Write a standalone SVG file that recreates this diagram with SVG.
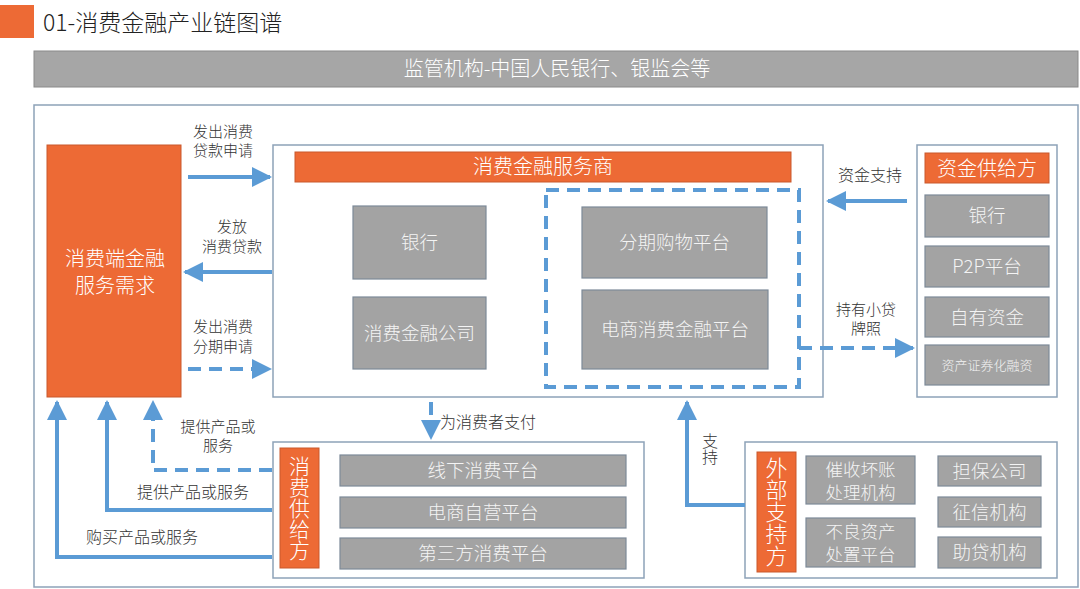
<svg xmlns="http://www.w3.org/2000/svg" width="1080" height="589" viewBox="0 0 1080 589">
<defs>
<style>
text{font-family:"Noto Sans CJK SC","Liberation Sans",sans-serif;font-weight:300;}
.frame{fill:#fff;stroke:#8da2b8;stroke-width:1.5;}
.org{fill:#ed6a35;stroke:#c9582c;stroke-width:1;}
.gray{fill:#a3a3a3;stroke:#7d8a98;stroke-width:1.2;}
.wt{fill:#fff;text-anchor:middle;}
.gt{fill:#f4f4f4;text-anchor:middle;font-size:18.5px;}
.gt2{fill:#f4f4f4;text-anchor:middle;font-size:17.5px;}
.lbl{fill:#333;font-size:16px;text-anchor:middle;}
.lb2{fill:#333;font-size:15px;text-anchor:middle;}
.vt{writing-mode:vertical-rl;text-anchor:middle;}
.ar{fill:none;stroke:#5b9bd5;stroke-width:4;}
.dash{stroke-dasharray:13 8;}
</style>
<marker id="ah" viewBox="0 0 10 10" refX="9" refY="5" markerWidth="5" markerHeight="5" orient="auto" markerUnits="strokeWidth">
<path d="M0,0 L10,5 L0,10 z" fill="#5b9bd5"/>
</marker>
</defs>
<rect width="1080" height="589" fill="#fff"/>

<g id="title">
<rect x="0" y="5" width="34" height="33" fill="#ed6a35"/>
<text x="43" y="31" font-size="23" fill="#222">01-消费金融产业链图谱</text>
</g>

<g id="regulator">
<rect x="34" y="51" width="1044" height="36" fill="#a6a6a6" stroke="#8a8a8a" stroke-width="1"/>
<text x="557" y="76" class="wt" font-size="20">监管机构-中国人民银行、银监会等</text>
</g>

<rect id="outer" x="34" y="105" width="1044" height="482" class="frame"/>

<g id="demand">
<rect x="47" y="145" width="134" height="252" class="org"/>
<text x="115" y="266" class="wt" font-size="20">消费端金融</text>
<text x="115" y="293" class="wt" font-size="20">服务需求</text>
</g>

<g id="provider">
<rect x="273" y="145" width="550" height="252" class="frame"/>
<rect x="295" y="152" width="496" height="30" class="org"/>
<text x="543" y="174" class="wt" font-size="20">消费金融服务商</text>
<rect x="353" y="206" width="133" height="73" class="gray"/>
<text x="419.5" y="249" class="gt">银行</text>
<rect x="353" y="297" width="133" height="72" class="gray"/>
<text x="419.5" y="340" class="gt">消费金融公司</text>
<rect x="546" y="190" width="253" height="197" fill="none" stroke="#5b9bd5" stroke-width="4" stroke-dasharray="13 8"/>
<rect x="582" y="207" width="185" height="71" class="gray"/>
<text x="674.5" y="249" class="gt">分期购物平台</text>
<rect x="582" y="290" width="186" height="79" class="gray"/>
<text x="675" y="336" class="gt">电商消费金融平台</text>
</g>

<g id="funding">
<rect x="917" y="145" width="140" height="252" class="frame"/>
<rect x="925" y="153" width="124" height="30" class="org"/>
<text x="987" y="176" class="wt" font-size="20">资金供给方</text>
<rect x="925" y="195" width="124" height="42" class="gray"/>
<text x="987" y="222" class="gt">银行</text>
<rect x="925" y="246" width="124" height="41" class="gray"/>
<text x="987" y="273" class="gt">P2P平台</text>
<rect x="925" y="297" width="124" height="40" class="gray"/>
<text x="987" y="324" class="gt">自有资金</text>
<rect x="925" y="345" width="124" height="40" class="gray"/>
<text x="987" y="370" class="gt" style="font-size:13px">资产证券化融资</text>
</g>

<g id="consumer-supply">
<rect x="273" y="442" width="371" height="136" class="frame"/>
<rect x="280" y="448" width="39" height="120" class="org"/>
<text x="299.5" y="508" class="vt" fill="#fff" font-size="21">消费供给方</text>
<rect x="340" y="455" width="286" height="31" class="gray"/>
<text x="483" y="477" class="gt">线下消费平台</text>
<rect x="340" y="497" width="286" height="31" class="gray"/>
<text x="483" y="519" class="gt">电商自营平台</text>
<rect x="340" y="538" width="286" height="31" class="gray"/>
<text x="483" y="560" class="gt">第三方消费平台</text>
</g>

<g id="external">
<rect x="745" y="442" width="312" height="136" class="frame"/>
<rect x="757" y="452" width="39" height="120" class="org"/>
<text x="776.5" y="512" class="vt" fill="#fff" font-size="22">外部支持方</text>
<rect x="806" y="456" width="109" height="48" class="gray"/>
<text x="860.5" y="475.5" class="gt2">催收坏账</text>
<text x="860.5" y="498.5" class="gt2">处理机构</text>
<rect x="806" y="518" width="109" height="49" class="gray"/>
<text x="860.5" y="538" class="gt2">不良资产</text>
<text x="860.5" y="561" class="gt2">处置平台</text>
<rect x="938" y="456" width="103" height="30" class="gray"/>
<text x="989.5" y="478" class="gt">担保公司</text>
<rect x="938" y="497" width="103" height="30" class="gray"/>
<text x="989.5" y="519" class="gt">征信机构</text>
<rect x="938" y="537" width="103" height="31" class="gray"/>
<text x="989.5" y="559" class="gt">助贷机构</text>
</g>

<g id="connectors">
<path class="ar" d="M188,177 H270" marker-end="url(#ah)"/>
<path class="ar" d="M272,272 H185" marker-end="url(#ah)"/>
<path class="ar dash" d="M188,369 H270" marker-end="url(#ah)"/>
<path class="ar" d="M907,201 H828" marker-end="url(#ah)"/>
<path class="ar dash" d="M799,348 H913" marker-end="url(#ah)"/>
<path class="ar dash" d="M431,402 V438" marker-end="url(#ah)"/>
<path class="ar dash" d="M272,470 H153 V402" marker-end="url(#ah)"/>
<path class="ar" d="M272,510 H107 V402" marker-end="url(#ah)"/>
<path class="ar" d="M272,557 H57 V402" marker-end="url(#ah)"/>
<path class="ar" d="M745,505 H687 V402" marker-end="url(#ah)"/>
</g>

<g id="labels">
<text x="223" y="137" class="lb2">发出消费</text>
<text x="223" y="156" class="lb2">贷款申请</text>
<text x="232" y="232" class="lb2">发放</text>
<text x="232" y="252" class="lb2">消费贷款</text>
<text x="223" y="332" class="lb2">发出消费</text>
<text x="223" y="352" class="lb2">分期申请</text>
<text x="870" y="181" class="lbl">资金支持</text>
<text x="866" y="315" class="lb2">持有小贷</text>
<text x="866" y="334" class="lb2">牌照</text>
<text x="440" y="428" class="lbl" style="text-anchor:start">为消费者支付</text>
<text x="218" y="432" class="lb2">提供产品或</text>
<text x="218" y="451" class="lb2">服务</text>
<text x="193" y="498" class="lbl">提供产品或服务</text>
<text x="142" y="543" class="lbl">购买产品或服务</text>
<text x="710" y="449" class="lbl vt" fill="#333">支持</text>
</g>
</svg>
